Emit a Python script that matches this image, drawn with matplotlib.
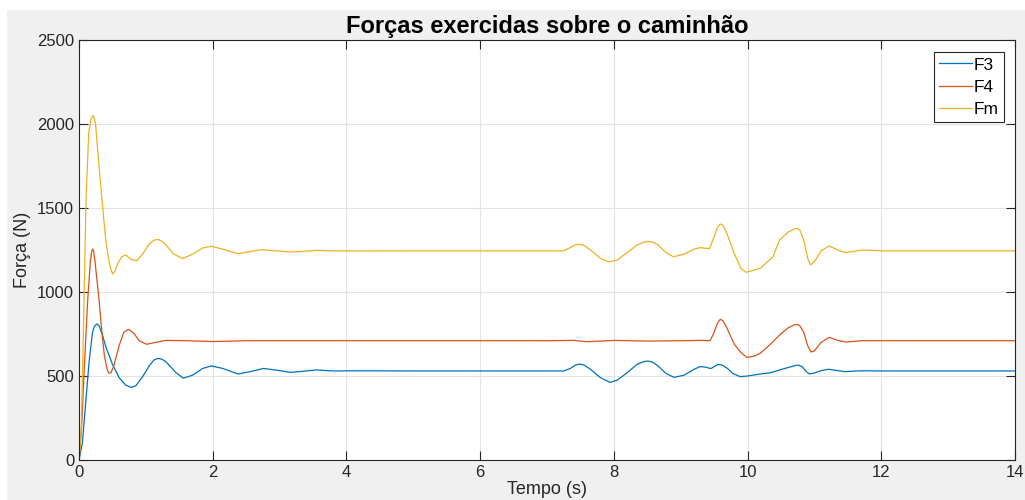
import numpy as np
import matplotlib.pyplot as plt
from matplotlib.patches import Rectangle

# Forces (time in s, force in N)
t_f3 = [0, 0.05, 0.1, 0.15, 0.2, 0.23, 0.265, 0.3, 0.35, 0.4, 0.5, 0.6, 0.7, 0.78, 0.85,
        0.95, 1.05, 1.12, 1.18, 1.24, 1.3, 1.45, 1.56, 1.7, 1.85, 1.98, 2.15, 2.38, 2.55,
        2.76, 2.95, 3.16, 3.35, 3.55, 3.8, 4.2, 5, 6, 7.25, 7.35, 7.42, 7.48, 7.55, 7.65,
        7.8, 7.94, 8.05, 8.2, 8.35, 8.45, 8.51, 8.58, 8.66, 8.78, 8.9, 9.05, 9.2, 9.29,
        9.38, 9.45, 9.51, 9.56, 9.62, 9.7, 9.78, 9.89, 10.0, 10.19, 10.35, 10.48, 10.62,
        10.72, 10.76, 10.82, 10.88, 10.93, 11.0, 11.1, 11.21, 11.35, 11.46, 11.7, 12, 13,
        14]
f3 = [0, 100, 340, 580, 755, 795, 810, 800, 745, 675, 570, 490, 445, 432, 442,
      495, 560, 595, 605, 600, 585, 520, 487, 505, 545, 560, 545, 512, 525,
      545, 535, 522, 528, 536, 530, 531, 530, 530, 530, 545, 564, 571, 566, 540,
      490, 462, 475, 520, 570, 586, 589, 583, 560, 515, 492, 505, 540, 556,
      552, 544, 558, 569, 565, 545, 515, 496, 500, 512, 520, 536, 552,
      563, 565, 555, 525, 512, 518, 532, 540, 532, 526, 531, 530, 530,
      530]

t_f4 = [0, 0.04, 0.08, 0.13, 0.17, 0.19, 0.204, 0.22, 0.24, 0.3, 0.34, 0.38, 0.42, 0.45,
        0.48, 0.52, 0.6, 0.67, 0.74, 0.82, 0.9, 1.01, 1.15, 1.3, 1.6, 2.0, 2.5, 3, 5, 7,
        7.4, 7.6, 8, 8.5, 9, 9.3, 9.44, 9.5, 9.55, 9.59, 9.63, 9.68, 9.8, 9.9, 9.99,
        10.1, 10.19, 10.33, 10.48, 10.6, 10.7, 10.74, 10.78, 10.84, 10.9, 10.95, 11.0,
        11.1, 11.22, 11.35, 11.47, 11.7, 12, 14]
f4 = [0, 200, 555, 952, 1180, 1240, 1256, 1240, 1180, 952, 770, 620, 540, 516,
      520, 560, 680, 760, 778, 755, 710, 689, 700, 712, 710, 705, 710, 710, 710, 710,
      712, 704, 712, 708, 710, 712, 710, 760, 815, 837, 830, 795, 690, 640, 611,
      618, 635, 685, 744, 785, 805, 807, 800, 760, 680, 643, 650,
      700, 730, 712, 702, 710, 710, 710]

t_fm = [0, 0.03, 0.055, 0.08, 0.105, 0.145, 0.18, 0.2, 0.214, 0.23, 0.25, 0.3, 0.35,
        0.4, 0.45, 0.48, 0.504, 0.54, 0.58, 0.64, 0.698, 0.78, 0.863, 0.95, 1.05, 1.12,
        1.186, 1.25, 1.3, 1.42, 1.55, 1.7, 1.85, 1.98, 2.15, 2.38, 2.55, 2.73, 2.95, 3.16,
        3.35, 3.55, 3.8, 4.2, 5, 6, 7.25, 7.35, 7.42, 7.48, 7.55, 7.65, 7.8, 7.93, 8.05,
        8.2, 8.35, 8.45, 8.51, 8.58, 8.66, 8.78, 8.89, 9.05, 9.2, 9.29, 9.43, 9.5, 9.55,
        9.59, 9.63, 9.68, 9.8, 9.9, 9.98, 10.19, 10.38, 10.48, 10.6, 10.7, 10.74, 10.78,
        10.84, 10.9, 10.94, 11.0, 11.1, 11.22, 11.35, 11.47, 11.71, 12, 13, 14]
fm = [0, 150, 555, 1050, 1548, 1944, 2030, 2048, 2049, 2035, 1990, 1746, 1520,
      1310, 1180, 1130, 1107, 1125, 1170, 1210, 1220, 1195, 1185, 1225, 1285, 1308,
      1313, 1300, 1280, 1225, 1199, 1225, 1262, 1272, 1255, 1228, 1240, 1252, 1245, 1238,
      1242, 1248, 1245, 1244, 1245, 1245, 1245, 1265, 1280, 1284, 1278, 1250, 1200, 1179, 1190,
      1235, 1280, 1297, 1300, 1298, 1280, 1235, 1210, 1225, 1255, 1264, 1258, 1330, 1385,
      1405, 1398, 1360, 1230, 1140, 1117, 1141, 1210, 1310, 1355, 1375, 1379, 1370,
      1310, 1200, 1161, 1180, 1245, 1274, 1250, 1234, 1250, 1245, 1245, 1245]

x_ticks = [0, 2, 4, 6, 8, 10, 12, 14]
y_ticks = [0, 500, 1000, 1500, 2000, 2500]

plt.rcParams['font.family'] = ['Liberation Sans', 'DejaVu Sans']
txt = '#262626'

fig = plt.figure(figsize=(10.25, 5), dpi=100)
fig.patch.set_facecolor('white')
# matlab grey window background
fig.add_artist(Rectangle((7 / 1025, 0), 1, 490 / 500, transform=fig.transFigure,
                         facecolor='#f0f0f0', edgecolor='none', zorder=-10))

ax = fig.add_axes([79 / 1025, 40 / 500, 936 / 1025, 420 / 500])
ax.set_facecolor('white')

ax.plot(t_f3, f3, color='#0072BD', lw=0.9, label='F3')
ax.plot(t_f4, f4, color='#D95319', lw=0.9, label='F4')
ax.plot(t_fm, fm, color='#EDB120', lw=0.9, label='Fm')

ax.set_xlim(0, 14)
ax.set_ylim(0, 2500)
ax.set_xticks(x_ticks)
ax.set_yticks(y_ticks)
ax.grid(True, color='#e3e3e3', lw=0.8)
ax.set_axisbelow(True)
ax.tick_params(direction='in', length=6.5, width=0.8, colors=txt, labelsize=12,
               top=True, right=True, labelcolor=txt)
for s in ax.spines.values():
    s.set_color(txt)
    s.set_linewidth(0.8)

ax.set_title('Forças exercidas sobre o caminhão', fontsize=17, fontweight='bold',
             color='black', pad=5)
ax.set_xlabel('Tempo (s)', fontsize=13, color=txt, labelpad=1)
ax.set_ylabel('Força (N)', fontsize=13, color=txt, labelpad=4)

leg = ax.legend(loc='upper right', bbox_to_anchor=(0.988, 0.971), fontsize=12.5,
                fancybox=False, framealpha=1, edgecolor=txt, handlelength=1.9,
                handletextpad=0.1, borderpad=0.3, labelspacing=0.4, borderaxespad=0)
leg.get_frame().set_linewidth(0.8)

fig.savefig('out.png', dpi=100, facecolor=fig.get_facecolor())
